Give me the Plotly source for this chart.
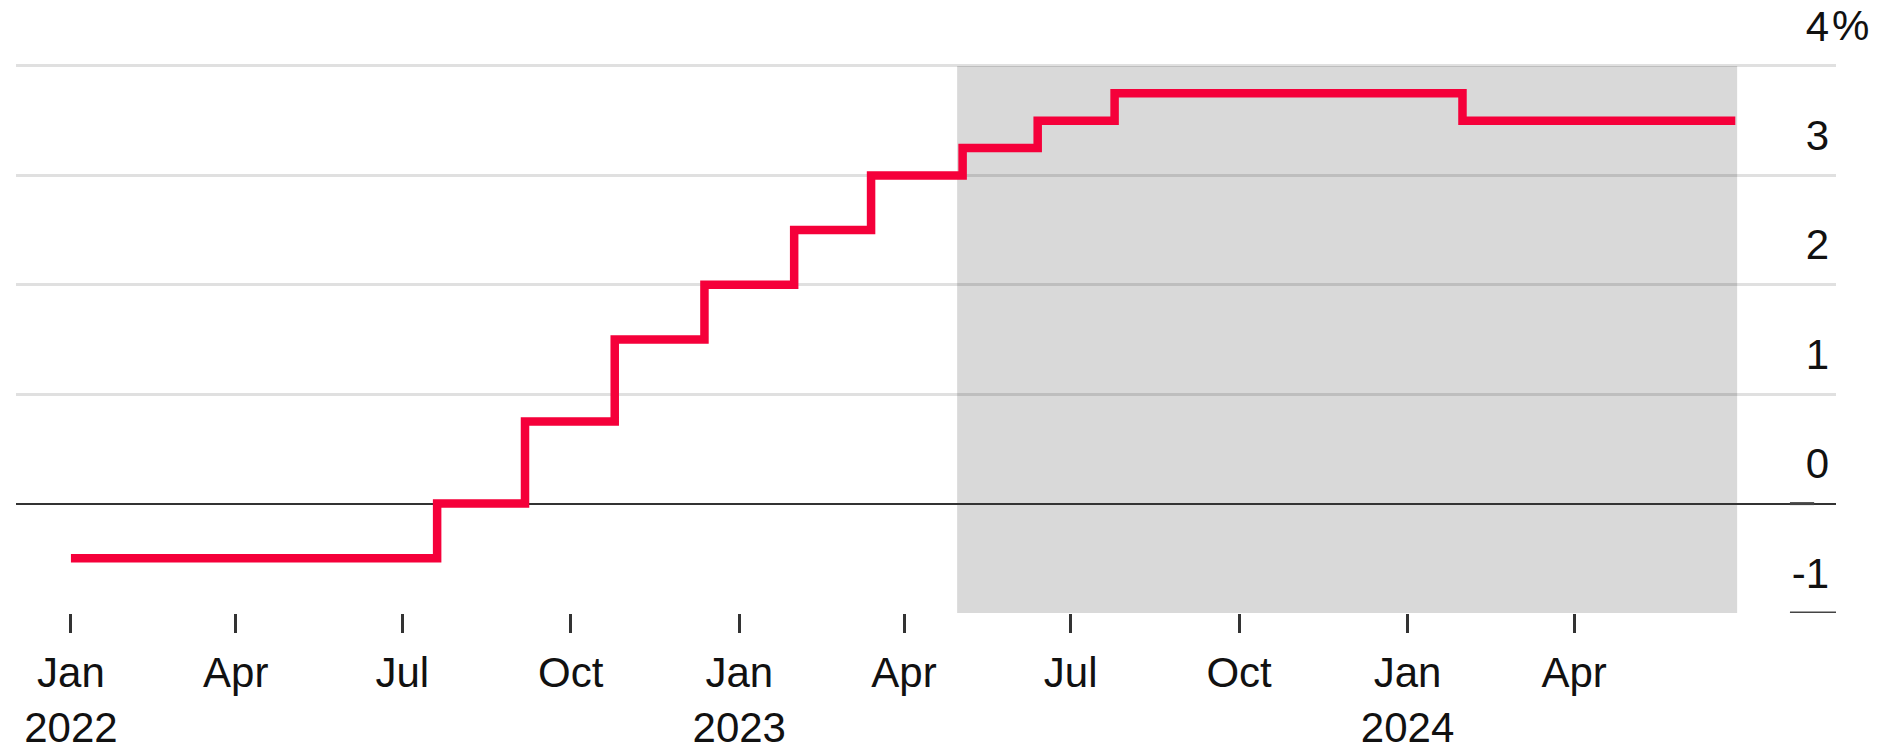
import plotly.graph_objects as go

# policy rate path (step changes), percent
change_dates = ["2022-01-01", "2022-07-20", "2022-09-06", "2022-10-25", "2022-12-13",
                "2023-01-31", "2023-03-14", "2023-05-03", "2023-06-13", "2023-07-25",
                "2024-01-31", "2024-06-28"]
rates = [-0.5, 0.0, 0.75, 1.5, 2.0, 2.5, 3.0, 3.25, 3.5, 3.75, 3.5, 3.5]

# shaded period
shade_start = "2023-04-30"
shade_end = "2024-06-29"

tick_dates = ["2022-01-01", "2022-04-01", "2022-07-01", "2022-10-01",
              "2023-01-01", "2023-04-01", "2023-07-01", "2023-10-01",
              "2024-01-01", "2024-04-01"]
tick_text = ["Jan<br>2022", "Apr", "Jul", "Oct",
             "Jan<br>2023", "Apr", "Jul", "Oct",
             "Jan<br>2024", "Apr"]

y_ticks = [-1, 0, 1, 2, 3, 4]
y_text = ["-1", "0", "1", "2", "3", "4"]

FONT = "Liberation Sans, Arial, Helvetica, sans-serif"
TEXT = "#111111"

fig = go.Figure()
fig.add_trace(go.Scatter(
    x=change_dates,
    y=rates,
    mode="lines",
    line=dict(color="#f5003a", width=8.5, shape="hv"),
    hoverinfo="x+y",
))

# forecast shading (stops at the top gridline)
fig.add_shape(type="rect", xref="x", yref="y",
              x0=shade_start, x1=shade_end, y0=-1, y1=4,
              fillcolor="#d9d9d9", line_width=0, layer="below")
# short dark marks at the right end of the bottom and zero lines
fig.add_shape(type="line", xref="paper", yref="y",
              x0=0.9747, x1=1.0, y0=-1, y1=-1,
              line=dict(color="#444444", width=3))
fig.add_shape(type="line", xref="paper", yref="y",
              x0=0.9747, x1=0.988, y0=0, y1=0,
              line=dict(color="#444444", width=3))
# percent sign hanging after the top label
fig.add_annotation(text="%", xref="paper", yref="y", x=1.0, y=4,
                   xanchor="left", yanchor="middle", yshift=40, xshift=-6,
                   showarrow=False,
                   font=dict(family=FONT, size=42, color=TEXT))

# the page body adds an 8px margin, so the figure is 8px smaller than the window
fig.update_layout(
    width=1880,
    height=738,
    margin=dict(l=8, r=52, t=0, b=133),
    paper_bgcolor="white",
    plot_bgcolor="white",
    showlegend=False,
    font=dict(family=FONT, size=42, color=TEXT),
    xaxis=dict(
        type="date",
        range=["2021-12-02", "2024-08-22"],
        tickvals=tick_dates,
        ticktext=tick_text,
        tickfont=dict(family=FONT, size=42, color=TEXT),
        ticks="outside",
        ticklen=19,
        tickwidth=2.5,
        tickcolor="#333333",
        ticklabelstandoff=4,
        showgrid=False,
        zeroline=False,
        automargin=False,
    ),
    yaxis=dict(
        range=[-1, 4.53],
        side="right",
        tickvals=y_ticks,
        ticktext=y_text,
        tickfont=dict(family=FONT, size=42, color=TEXT),
        ticklabelposition="inside",
        ticklabeloverflow="allow",
        ticklabelshift=-40,
        ticklabelstandoff=4,
        showgrid=True,
        gridcolor="rgba(0,0,0,0.12)",
        gridwidth=3,
        zeroline=True,
        zerolinecolor="#333333",
        zerolinewidth=2,
        ticks="",
        automargin=False,
    ),
)

fig.write_html("out.html")
